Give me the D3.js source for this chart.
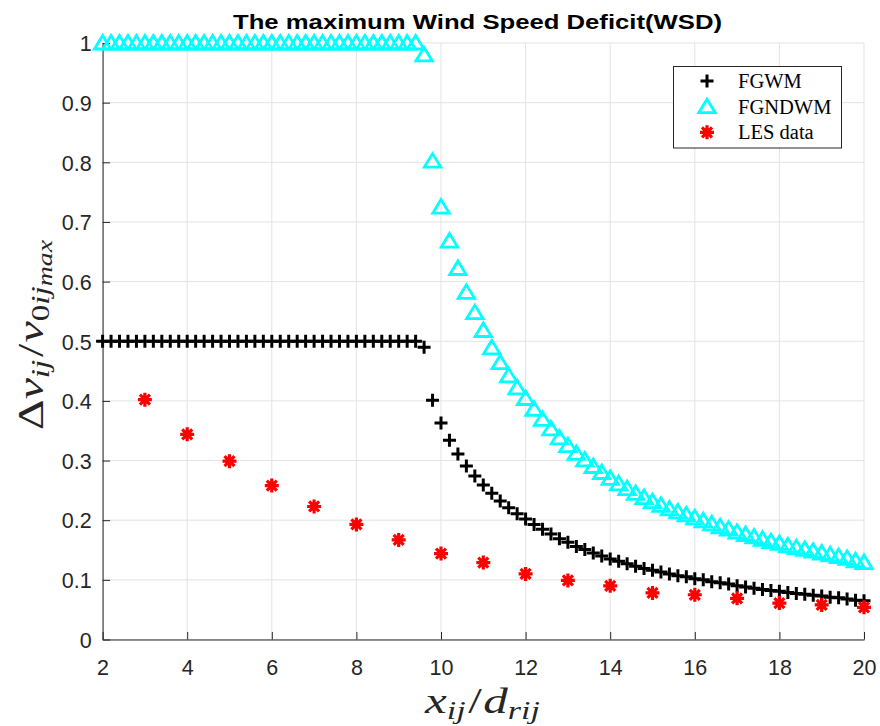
<!DOCTYPE html>
<html>
<head>
<meta charset="utf-8">
<script src="https://cdn.jsdelivr.net/npm/d3@7"></script>
<style>
    body { margin: 0; background: #fff; }
    svg { display: block; }
</style>
</head>
<body>
<svg id="chart"></svg>
<script>
// Data ----------
const xGrid = [2.0,2.2,2.4,2.6,2.8,3.0,3.2,3.4,3.6,3.8,4.0,4.2,4.4,4.6,4.8,5.0,5.2,5.4,5.6,5.8,
    6.0,6.2,6.4,6.6,6.8,7.0,7.2,7.4,7.6,7.8,8.0,8.2,8.4,8.6,8.8,9.0,9.2,9.4,9.6,9.8,
    10.0,10.2,10.4,10.6,10.8,11.0,11.2,11.4,11.6,11.8,12.0,12.2,12.4,12.6,12.8,13.0,13.2,13.4,13.6,13.8,
    14.0,14.2,14.4,14.6,14.8,15.0,15.2,15.4,15.6,15.8,16.0,16.2,16.4,16.6,16.8,17.0,17.2,17.4,17.6,17.8,
    18.0,18.2,18.4,18.6,18.8,19.0,19.2,19.4,19.6,19.8,20.0];

const fgwm = [0.5,0.5,0.5,0.5,0.5,0.5,0.5,0.5,0.5,0.5,0.5,0.5,0.5,0.5,0.5,0.5,0.5,0.5,0.5,0.5,
    0.5,0.5,0.5,0.5,0.5,0.5,0.5,0.5,0.5,0.5,0.5,0.5,0.5,0.5,0.5,0.5,0.5,0.5,0.49,
    0.401,0.363,0.334,0.311,0.291,0.274,0.259,0.245,0.232,0.221,0.211,
    0.202,0.193,0.185,0.177,0.169,0.163,0.156,0.151,0.145,0.140,
    0.135,0.131,0.127,0.123,0.119,0.116,0.113,0.110,0.107,0.105,
    0.102,0.100,0.097,0.095,0.093,0.090,0.088,0.086,0.084,0.082,
    0.081,0.079,0.077,0.076,0.074,0.073,0.071,0.070,0.068,0.066,0.065];

const fgndwm = [1,1,1,1,1,1,1,1,1,1,1,1,1,1,1,1,1,1,1,1,
    1,1,1,1,1,1,1,1,1,1,1,1,1,1,1,1,1,1,0.98,
    0.802,0.725,0.668,0.622,0.582,0.548,0.518,0.489,0.464,0.442,0.422,
    0.404,0.386,0.369,0.353,0.338,0.325,0.312,0.301,0.290,0.280,
    0.270,0.261,0.253,0.245,0.238,0.231,0.225,0.219,0.214,0.209,
    0.204,0.199,0.194,0.189,0.185,0.180,0.176,0.172,0.168,0.164,
    0.161,0.157,0.154,0.151,0.148,0.145,0.142,0.139,0.136,0.132,0.129];

const lesX = [3,4,5,6,7,8,9,10,11,12,13,14,15,16,17,18,19,20];
const lesY = [0.402,0.344,0.299,0.258,0.223,0.193,0.167,0.144,0.129,0.110,0.099,0.090,0.078,0.075,0.069,0.061,0.058,0.054];

const xTicks = [2,4,6,8,10,12,14,16,18,20];
const yTicks = [0,0.1,0.2,0.3,0.4,0.5,0.6,0.7,0.8,0.9,1];
const yTickLabels = ["0","0.1","0.2","0.3","0.4","0.5","0.6","0.7","0.8","0.9","1"];
const seriesNames = ["FGWM","FGNDWM","LES data"];

// Setup ----------
const width = 880, height = 726;
const axisColor = "#262626", gridColor = "#e3e3e3";

const svg = d3.select("#chart")
    .attr("width", width)
    .attr("height", height);

const x = d3.scaleLinear().domain([2, 20]).range([102.6, 864]);
const y = d3.scaleLinear().domain([0, 1]).range([639.5, 43]);

// Grid ----------
svg.append("g")
    .selectAll("line")
    .data(xTicks)
    .enter()
    .append("line")
    .attr("x1", d => x(d)).attr("x2", d => x(d))
    .attr("y1", y(0)).attr("y2", y(1))
    .style("stroke", gridColor).style("stroke-width", 1);

svg.append("g")
    .selectAll("line")
    .data(yTicks)
    .enter()
    .append("line")
    .attr("x1", x(2)).attr("x2", x(20))
    .attr("y1", d => y(d)).attr("y2", d => y(d))
    .style("stroke", gridColor).style("stroke-width", 1);

// Axes ----------
const xAxis = svg.append("g")
    .attr("transform", `translate(0,${y(0)})`)
    .call(d3.axisBottom(x).tickValues(xTicks).tickSizeInner(-7.5).tickSizeOuter(0).tickPadding(20));

const yAxis = svg.append("g")
    .attr("transform", `translate(${x(2)},0)`)
    .call(d3.axisLeft(y).tickValues(yTicks).tickFormat((d, i) => yTickLabels[i]).tickSizeInner(-7.5).tickSizeOuter(0).tickPadding(11));

[xAxis, yAxis].forEach(g => {
    g.select(".domain").style("stroke", axisColor).style("stroke-width", 1);
    g.selectAll(".tick line").style("stroke", axisColor).style("stroke-width", 1);
    g.selectAll(".tick text")
        .style("fill", axisColor)
        .style("font-family", "'Liberation Sans', Arial, sans-serif")
        .style("font-size", "21.5px");
});
yAxis.selectAll(".tick text").attr("dy", "0.36em");

// Markers ----------
const plusPath = "M-6.5,0H6.5M0,-6.5V6.5";
const triPath = "M0,-7.5L-8.2,6L8.2,6Z";
const starPath = "M-7,0H7M0,-7V7M-5,-5L5,5M-5,5L5,-5";

const plotMarks = svg.append("g");

plotMarks.selectAll(".fgwm")
    .data(xGrid.map((d, i) => [d, fgwm[i]]))
    .enter()
    .append("path")
    .attr("d", plusPath)
    .attr("transform", d => `translate(${x(d[0])},${y(d[1])})`)
    .style("fill", "none").style("stroke", "#000").style("stroke-width", 3);

plotMarks.selectAll(".fgndwm")
    .data(xGrid.map((d, i) => [d, fgndwm[i]]))
    .enter()
    .append("path")
    .attr("d", triPath)
    .attr("transform", d => `translate(${x(d[0])},${y(d[1])})`)
    .style("fill", "none").style("stroke", "#00ffff").style("stroke-width", 2.8);

plotMarks.selectAll(".les")
    .data(lesX.map((d, i) => [d, lesY[i]]))
    .enter()
    .append("path")
    .attr("d", starPath)
    .attr("transform", d => `translate(${x(d[0])},${y(d[1])})`)
    .style("fill", "none").style("stroke", "#ff0000").style("stroke-width", 3.2);

// Title ----------
svg.append("text")
    .attr("x", 477.5)
    .attr("y", 29)
    .attr("text-anchor", "middle")
    .attr("textLength", 489)
    .attr("lengthAdjust", "spacingAndGlyphs")
    .style("font-family", "'Liberation Sans', Arial, sans-serif")
    .style("font-weight", "bold")
    .style("font-size", "21px")
    .style("fill", "#000")
    .text("The maximum Wind Speed Deficit(WSD)");

// Axis labels (LaTeX style) ----------
const mathFont = "'Liberation Serif', 'Times New Roman', serif";

const xLabel = svg.append("text")
    .attr("x", 482.5)
    .attr("y", 713)
    .attr("text-anchor", "middle")
    .attr("textLength", 115)
    .attr("lengthAdjust", "spacingAndGlyphs")
    .style("font-family", mathFont)
    .style("font-style", "italic")
    .style("font-size", "36px")
    .style("fill", "#262626");
xLabel.append("tspan").text("x");
xLabel.append("tspan").attr("dy", 6).style("font-size", "25px").text("ij");
xLabel.append("tspan").attr("dy", -6).attr("dx", 2).style("font-style", "normal").text("/");
xLabel.append("tspan").attr("dx", 1).text("d");
xLabel.append("tspan").attr("dy", 6).style("font-size", "25px").text("rij");

const yLabel = svg.append("text")
    .attr("transform", "translate(43,335) rotate(-90)")
    .attr("text-anchor", "middle")
    .attr("textLength", 190)
    .attr("lengthAdjust", "spacingAndGlyphs")
    .style("font-family", mathFont)
    .style("font-style", "italic")
    .style("font-size", "36px")
    .style("fill", "#262626");
yLabel.append("tspan").style("font-style", "normal").text("\u0394");
yLabel.append("tspan").text("v");
yLabel.append("tspan").attr("dy", 6).style("font-size", "25px").text("ij");
yLabel.append("tspan").attr("dy", -6).attr("dx", 2).style("font-style", "normal").text("/");
yLabel.append("tspan").attr("dx", 1).text("v");
yLabel.append("tspan").attr("dy", 6).style("font-size", "25px").style("font-style", "normal").text("0");
yLabel.append("tspan").style("font-size", "25px").text("ij");
yLabel.append("tspan").attr("dy", 3).style("font-size", "21px").text("max");

// Legend ----------
const legend = svg.append("g");

legend.append("rect")
    .attr("x", 673.5).attr("y", 66.5)
    .attr("width", 168).attr("height", 81.5)
    .style("fill", "#fff").style("stroke", axisColor).style("stroke-width", 1);

const legendPaths = [plusPath, triPath, starPath];
const legendColors = ["#000", "#00ffff", "#ff0000"];
const legendWidths = [3, 2.8, 3.2];
const legendRows = [81, 106.7, 132.3];

seriesNames.forEach((name, i) => {
    legend.append("path")
        .attr("d", legendPaths[i])
        .attr("transform", `translate(707,${legendRows[i]})`)
        .style("fill", "none")
        .style("stroke", legendColors[i])
        .style("stroke-width", legendWidths[i]);

    legend.append("text")
        .attr("x", 738)
        .attr("y", legendRows[i])
        .attr("dy", "0.34em")
        .style("font-family", mathFont)
        .style("font-size", "20.5px")
        .style("fill", "#000")
        .text(name);
});
</script>
</body>
</html>
